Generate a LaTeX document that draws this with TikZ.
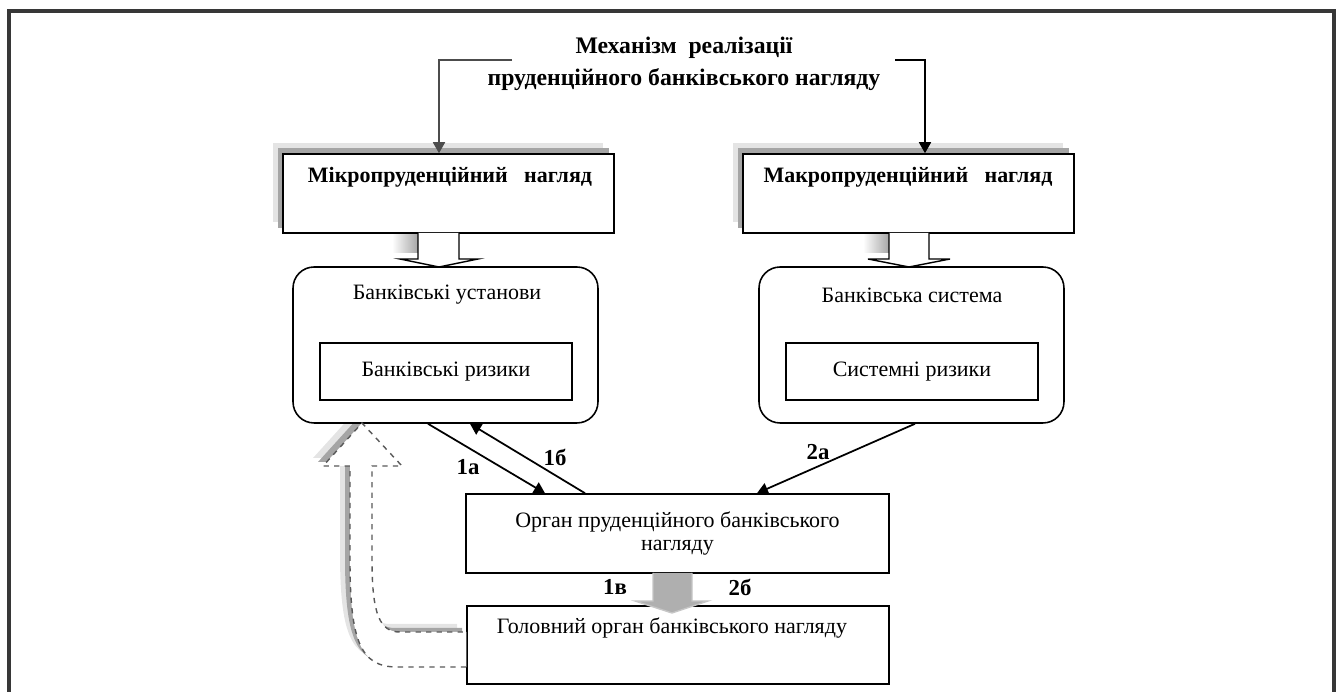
\documentclass[tikz,border=0pt]{standalone}
\usepackage{fontspec}
\setmainfont{Liberation Serif}
\usetikzlibrary{arrows.meta}
\definecolor{framegray}{RGB}{55,55,55}
\definecolor{shadedark}{RGB}{165,165,165}
\definecolor{shadelight}{RGB}{228,228,228}
\definecolor{arrowgray}{RGB}{175,175,175}

\begin{document}
\begin{tikzpicture}[x=0.02cm, y=-0.02cm, >={Triangle[length=0.22cm,width=0.24cm]},
    every node/.style={font=\fontsize{12.5}{13.5}\selectfont, inner sep=0pt},
    box/.style={draw, fill=white, line width=0.9pt},
    rbox/.style={draw, fill=white, rounded corners=0.42cm, line width=0.9pt},
    hd/.style={font=\fontsize{12.5}{15}\selectfont\bfseries},
    num/.style={font=\fontsize{13}{14}\selectfont\bfseries},
    link/.style={->, line width=1pt}]

    \useasboundingbox (0,0) rectangle (1340,692);
    \draw[framegray, line width=0.07cm] (9,700) -- (9,11) -- (1334,11) -- (1334,700);

    % === shadows ===
    \fill[shadelight] (273,143) rectangle (603,222);
    \fill[shadedark] (278,148) rectangle (609,228);
    \fill[shadelight] (733,143) rectangle (1063,222);
    \fill[shadedark] (738,148) rectangle (1069,228);
    \shade[left color=white, right color=gray!70] (392,235) rectangle (418,253);
    \shade[left color=white, right color=gray!70] (863,235) rectangle (889,253);
    \begin{scope}[shift={(-10,-8)}]
        \fill[shadelight] (467,667) -- (397,667) .. controls (360,667) and (350,640) .. (350,560) -- (350,466) -- (323,466) -- (362,423) -- (402,466) -- (372,466) -- (372,560) .. controls (372,615) and (380,632) .. (400,632) -- (467,632) -- cycle;
    \end{scope}
    \begin{scope}[shift={(-5,-4)}]
        \fill[shadedark] (467,667) -- (397,667) .. controls (360,667) and (350,640) .. (350,560) -- (350,466) -- (323,466) -- (362,423) -- (402,466) -- (372,466) -- (372,560) .. controls (372,615) and (380,632) .. (400,632) -- (467,632) -- cycle;
    \end{scope}

    % === upper level ===
    \node[hd, align=center, font=\fontsize{13.5}{18}\selectfont\bfseries] (title) at (684,64) {Механізм\ \ реалізації\\пруденційного банківського нагляду};
    \node[box, minimum width=6.62cm, minimum height=1.58cm] (micro) at (448.5,193.5) {};
    \node[box, minimum width=6.62cm, minimum height=1.58cm] (macro) at (908.5,193.5) {};
    \node[hd] (microtxt) at (450,177) {Мікропруденційний\ \ \ нагляд};
    \node[hd] (macrotxt) at (908,177) {Макропруденційний\ \ \ нагляд};

    \coordinate (tl) at (512,60);
    \coordinate (tr) at (895,60);
    \draw[link, gray!60!black] (tl) -| (micro.north -| 439,0);
    \draw[link] (tr) -| (macro.north -| 925,0);

    % === objects of supervision ===
    \node[rbox, minimum width=6.1cm, minimum height=3.12cm] (banks) at (445.5,345) {};
    \node[rbox, minimum width=6.1cm, minimum height=3.12cm] (system) at (911.5,345) {};
    \node (bankstxt) at (447,295) {Банківські установи};
    \node (systemtxt) at (912,295) {Банківська система};
    \node[box, minimum width=5.04cm, minimum height=1.14cm] (bankrisk) at (446,371.5) {Банківські ризики};
    \node[box, minimum width=5.04cm, minimum height=1.14cm] (sysrisk) at (912,371.5) {Системні ризики};

    \draw[fill=white, line width=0.8pt] (418,233) -- (418,259) -- (400,259) -- (439,267) -- (478,259) -- (459,259) -- (459,233);
    \draw[fill=white, line width=0.8pt] (889,233) -- (889,259) -- (868,259) -- (909,267) -- (950,259) -- (929,259) -- (929,233);

    % === supervisory bodies ===
    \node[box, align=center, minimum width=8.46cm, minimum height=1.58cm] (organ) at (677.5,533.5) {Орган пруденційного банківського\\нагляду};
    \node[box, minimum width=8.44cm, minimum height=1.56cm] (head) at (678,645) {};
    \node (headtxt) at (672,628) {Головний орган банківського нагляду};

    \draw[link] (banks.south -| 428,0) -- (organ.north -| 545,0);
    \draw[link] (organ.north -| 585,0) -- (banks.south -| 470,0);
    \draw[link] (system.south -| 915,0) -- (organ.north -| 757,0);
    \node[num] (l1a) at (468,467) {1а};
    \node[num] (l1b) at (555,457) {1б};
    \node[num] (l2a) at (818,452) {2а};
    \node[num] (l1c) at (615,587) {1в};
    \node[num] (l2b) at (740,587) {2б};

    \draw[fill=arrowgray, draw=gray!45, line width=0.8pt] (653,573) -- (653,601) -- (635,601) -- (672,613) -- (708,601) -- (692,601) -- (692,573);

    % === feedback ===
    \draw[fill=white, draw=gray!70!black, dashed, line width=0.8pt] (head.west |- 0,667) -- (397,667) .. controls (360,667) and (350,640) .. (350,560) -- (350,466) -- (323,466) -- (362,423) -- (402,466) -- (372,466) -- (372,560) .. controls (372,615) and (380,632) .. (400,632) -- (head.west |- 0,632);
\end{tikzpicture}
\end{document}
